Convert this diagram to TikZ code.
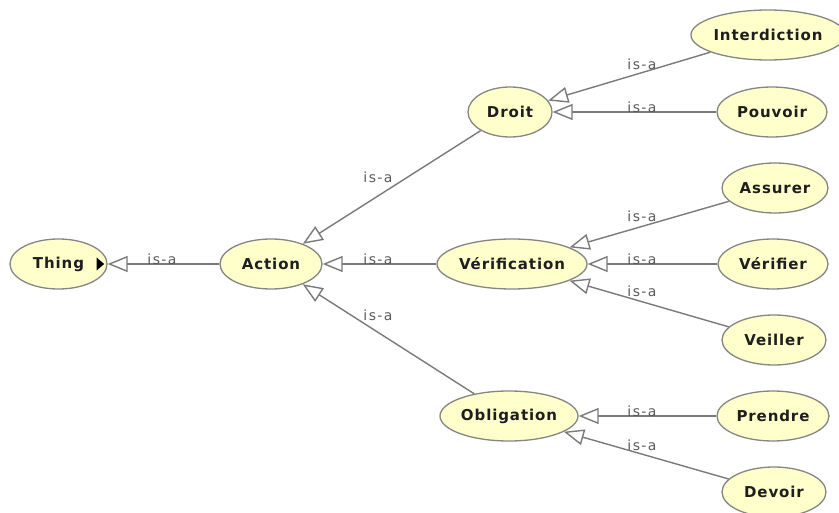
\documentclass[tikz,border=0pt]{standalone}
\usepackage{fontspec}
\setmainfont{DejaVu Sans}
\newfontfamily\nodefont[LetterSpace=6]{DejaVu Sans}
\newfontfamily\lblfont[LetterSpace=10]{DejaVu Sans}
\usetikzlibrary{arrows.meta,shapes.geometric}
\definecolor{ellfill}{HTML}{FFFFCC}
\definecolor{ellborder}{HTML}{858585}
\definecolor{edgec}{HTML}{7A7A7A}
\definecolor{txtc}{HTML}{1E1E1E}
\definecolor{lblc}{HTML}{5A5A5A}
\tikzset{
  cls/.style={ellipse, draw=ellborder, fill=ellfill, line width=1.3pt, inner sep=0pt,
    minimum height=50pt, text=txtc, font=\nodefont\bfseries\fontsize{15}{17}\selectfont},
  isa/.style={draw=edgec, line width=1.4pt, -{Triangle[open, length=20pt, width=16pt, fill=white]}},
  lbl/.style={font=\lblfont\fontsize{14}{16}\selectfont, text=lblc, inner sep=0pt, anchor=base}
}
\begin{document}
\begin{tikzpicture}[x=1pt,y=-1pt]
\useasboundingbox (0,0) rectangle (839,513);
% nodes
\node[cls, minimum width=97pt]  (thing) at (58.5,264) {Thing};
\node[cls, minimum width=102pt] (action) at (271,264) {Action};
\node[cls, minimum width=84pt]  (droit) at (510,112) {Droit};
\node[cls, minimum width=150pt] (verif) at (512,264) {Vérification};
\node[cls, minimum width=138pt] (oblig) at (509,416) {Obligation};
\node[cls, minimum width=140pt] (inter) at (768,35) {Interdiction};
\node[cls, minimum width=110pt] (pouv) at (772,112) {Pouvoir};
\node[cls, minimum width=106pt] (assur) at (775,188) {Assurer};
\node[cls, minimum width=110pt] (verifier) at (773,264) {Vérifier};
\node[cls, minimum width=104pt] (veill) at (774,340) {Veiller};
\node[cls, minimum width=112pt] (prend) at (773,416) {Prendre};
\node[cls, minimum width=104pt] (devoir) at (774,492) {Devoir};
% expand marker on Thing
\fill[black] ([xshift=-11pt,yshift=6.5pt]thing.east) -- ([xshift=-3.5pt]thing.east) -- ([xshift=-11pt,yshift=-6.5pt]thing.east) -- cycle;
% edges
\draw[isa] (action) -- (thing);
\draw[isa] (droit) -- (action);
\draw[isa] (verif) -- (action);
\draw[isa] (oblig) -- (action);
\draw[isa] (inter) -- (droit);
\draw[isa] (pouv) -- (droit);
\draw[isa] (assur) -- (verif);
\draw[isa] (verifier) -- (verif);
\draw[isa] (veill) -- (verif);
\draw[isa] (prend) -- (oblig);
\draw[isa] (devoir) -- (oblig);
% labels
\node[lbl] (l1) at (162,265) {is-a};
\node[lbl] (l2) at (378,183) {is-a};
\node[lbl] (l3) at (378,265) {is-a};
\node[lbl] (l4) at (378,321) {is-a};
\node[lbl] (l5) at (642,70) {is-a};
\node[lbl] (l6) at (642,113) {is-a};
\node[lbl] (l7) at (642,222) {is-a};
\node[lbl] (l8) at (642,265) {is-a};
\node[lbl] (l9) at (642,297) {is-a};
\node[lbl] (l10) at (642,417) {is-a};
\node[lbl] (l11) at (642,450) {is-a};
\end{tikzpicture}
\end{document}
